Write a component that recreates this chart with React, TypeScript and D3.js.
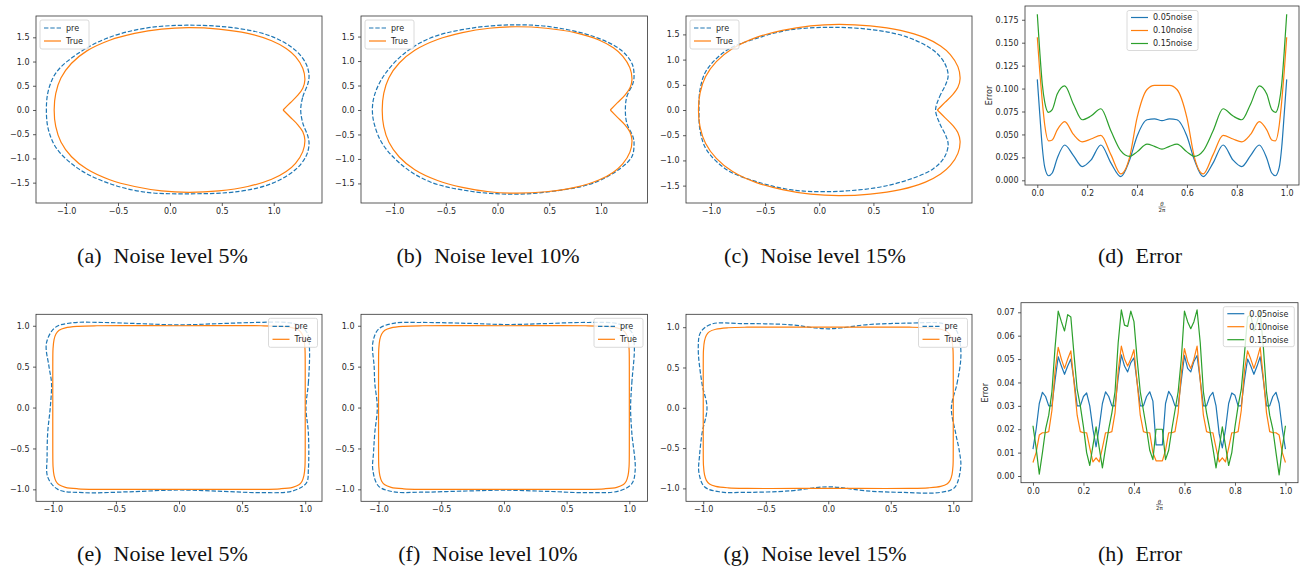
import React, { useEffect, useRef } from "react";
import * as d3 from "d3";

type Pt = [number, number];

const C0 = "#1f77b4";
const C1 = "#ff7f0e";
const C2 = "#2ca02c";

// --- true boundaries ---
const trueCardioid: Pt[] = [
  [1.09, 0.0], [1.16, 0.15], [1.23, 0.3], [1.28, 0.45], [1.3, 0.62], [1.28, 0.86],
  [1.21, 1.1], [1.12, 1.27], [0.98, 1.43], [0.75, 1.58], [0.47, 1.67], [0.18, 1.7],
  [-0.08, 1.67], [-0.34, 1.58], [-0.58, 1.44], [-0.8, 1.22], [-0.95, 0.96], [-1.05, 0.66],
  [-1.1, 0.34], [-1.115, 0.0], [-1.1, -0.34], [-1.05, -0.66], [-0.95, -0.96], [-0.8, -1.22],
  [-0.58, -1.44], [-0.34, -1.58], [-0.08, -1.67], [0.18, -1.7], [0.47, -1.67], [0.75, -1.58],
  [0.98, -1.43], [1.12, -1.27], [1.21, -1.1], [1.28, -0.86], [1.3, -0.62], [1.28, -0.45],
  [1.23, -0.3], [1.16, -0.15], [1.09, 0.0],
];

const trueRect: Pt[] = [
  [1.0, 0.0], [1.0, 0.5], [0.998, 0.72], [0.99, 0.83], [0.975, 0.9], [0.95, 0.945], [0.9, 0.975],
  [0.8, 0.993], [0.65, 1.0], [0.0, 1.0], [-0.65, 1.0], [-0.8, 0.993], [-0.9, 0.975], [-0.95, 0.945],
  [-0.975, 0.9], [-0.99, 0.83], [-0.998, 0.72], [-1.0, 0.5], [-1.0, 0.0], [-1.0, -0.5], [-0.998, -0.72],
  [-0.99, -0.83], [-0.975, -0.9], [-0.95, -0.945], [-0.9, -0.975], [-0.8, -0.993], [-0.65, -1.0],
  [0.0, -1.0], [0.65, -1.0], [0.8, -0.993], [0.9, -0.975], [0.95, -0.945], [0.975, -0.9], [0.99, -0.83],
  [0.998, -0.72], [1.0, -0.5],
];

// --- reconstructions ("pre") ---
const preA: Pt[] = [
  [1.26, 0.0], [1.28, 0.27], [1.33, 0.55], [1.34, 0.72], [1.31, 0.96], [1.21, 1.23], [0.99, 1.51],
  [0.67, 1.68], [0.18, 1.75], [-0.26, 1.68], [-0.62, 1.47], [-0.89, 1.16], [-1.09, 0.79], [-1.17, 0.41],
  [-1.19, 0.0], [-1.17, -0.41], [-1.09, -0.8], [-0.89, -1.2], [-0.62, -1.49], [-0.26, -1.69], [0.15, -1.73],
  [0.67, -1.68], [0.99, -1.51], [1.21, -1.23], [1.31, -0.96], [1.34, -0.72], [1.33, -0.55], [1.28, -0.27],
];

const preB: Pt[] = [
  [1.236, 0.0], [1.25, 0.27], [1.31, 0.55], [1.32, 0.7], [1.3, 0.95], [1.19, 1.23], [0.93, 1.5],
  [0.54, 1.69], [0.19, 1.74], [-0.26, 1.67], [-0.65, 1.47], [-0.91, 1.14], [-1.1, 0.7], [-1.19, 0.3],
  [-1.21, 0.0], [-1.19, -0.3], [-1.11, -0.7], [-0.91, -1.15], [-0.65, -1.47], [-0.26, -1.66], [0.155, -1.72],
  [0.54, -1.66], [0.93, -1.49], [1.19, -1.19], [1.3, -0.95], [1.32, -0.69], [1.31, -0.55], [1.25, -0.27],
];

const preC: Pt[] = [
  [1.074, 0.0], [1.11, 0.26], [1.17, 0.52], [1.19, 0.69], [1.157, 0.93], [1.05, 1.19], [0.8, 1.455],
  [0.5, 1.59], [0.13, 1.64], [-0.27, 1.59], [-0.58, 1.42], [-0.85, 1.19], [-1.04, 0.79], [-1.1, 0.41],
  [-1.11, 0.0], [-1.1, -0.41], [-1.04, -0.79], [-0.85, -1.19], [-0.58, -1.42], [-0.27, -1.58], [0.07, -1.62],
  [0.5, -1.55], [0.8, -1.4], [1.05, -1.17], [1.157, -0.93], [1.19, -0.69], [1.17, -0.52], [1.11, -0.26],
];

const preE: Pt[] = [
  [1.006, 0.0], [1.025, 0.3], [1.034, 0.71], [1.02, 0.9], [0.96, 1.0], [0.85, 1.04], [0.6, 1.04],
  [0.3, 1.025], [0.0, 1.01], [-0.3, 1.025], [-0.6, 1.04], [-0.85, 1.035], [-0.98, 0.98], [-1.05, 0.79],
  [-1.03, 0.5], [-1.01, 0.3], [-1.02, 0.0], [-1.04, -0.3], [-1.045, -0.6], [-1.04, -0.85], [-0.96, -1.0],
  [-0.76, -1.04], [-0.4, -1.03], [0.0, -1.008], [0.35, -1.025], [0.64, -1.04], [0.9, -1.02], [1.01, -0.92],
  [1.025, -0.76], [1.025, -0.31],
];

const preF: Pt[] = [
  [1.01, 0.0], [1.02, 0.3], [1.04, 0.75], [1.02, 0.92], [0.92, 1.02], [0.655, 1.04], [0.3, 1.025],
  [0.01, 1.015], [-0.3, 1.03], [-0.67, 1.04], [-0.88, 1.03], [-1.0, 0.96], [-1.046, 0.79], [-1.035, 0.5],
  [-1.03, 0.3], [-1.01, 0.0], [-1.03, -0.31], [-1.04, -0.55], [-1.046, -0.76], [-1.0, -0.96], [-0.88, -1.03],
  [-0.67, -1.035], [-0.3, -1.02], [0.01, -1.01], [0.35, -1.025], [0.655, -1.04], [0.92, -1.02], [1.02, -0.93],
  [1.047, -0.76], [1.02, -0.31],
];

const preG: Pt[] = [
  [0.985, 0.0], [1.03, 0.3], [1.06, 0.6], [1.055, 0.8], [1.02, 0.97], [0.92, 1.045], [0.63, 1.05],
  [0.3, 1.03], [0.1, 0.99], [0.0, 0.98], [-0.1, 0.99], [-0.3, 1.03], [-0.7, 1.045], [-0.93, 1.04],
  [-1.02, 0.94], [-1.04, 0.75], [-1.01, 0.3], [-0.97, 0.0], [-1.01, -0.32], [-1.03, -0.6], [-1.035, -0.8],
  [-0.99, -0.98], [-0.86, -1.045], [-0.7, -1.05], [-0.3, -1.03], [-0.1, -0.99], [0.0, -0.98], [0.1, -0.99],
  [0.3, -1.03], [0.6, -1.05], [0.894, -1.05], [1.01, -0.99], [1.06, -0.73], [1.05, -0.55], [1.02, -0.32],
];

// --- error curves, cardioid case ---
const thetaD = [
  0, 0.01, 0.02, 0.03, 0.045, 0.06, 0.08, 0.11, 0.145, 0.18, 0.215, 0.255, 0.295, 0.335, 0.37, 0.4, 0.44,
  0.47, 0.5, 0.53, 0.56, 0.6, 0.63, 0.665, 0.705, 0.745, 0.785, 0.82, 0.855, 0.89, 0.92, 0.94, 0.955, 0.97,
  0.98, 0.99, 1.0,
];
const err05D = [
  0.11, 0.072, 0.036, 0.014, 0.005, 0.008, 0.024, 0.0385, 0.027, 0.015, 0.022, 0.0385, 0.019, 0.004, 0.022,
  0.048, 0.066, 0.067, 0.065, 0.067, 0.066, 0.048, 0.022, 0.004, 0.019, 0.0385, 0.022, 0.015, 0.027, 0.0385,
  0.024, 0.008, 0.005, 0.014, 0.036, 0.072, 0.11,
];
const err10D = [
  0.156, 0.118, 0.086, 0.06, 0.043, 0.044, 0.055, 0.064, 0.05, 0.042, 0.045, 0.049, 0.028, 0.007, 0.025,
  0.068, 0.099, 0.1035, 0.1035, 0.1035, 0.099, 0.068, 0.025, 0.007, 0.028, 0.049, 0.045, 0.042, 0.05, 0.064,
  0.055, 0.044, 0.043, 0.06, 0.086, 0.118, 0.156,
];
const err15D = [
  0.181, 0.14, 0.105, 0.085, 0.074, 0.077, 0.094, 0.103, 0.083, 0.066, 0.07, 0.078, 0.054, 0.032, 0.026,
  0.031, 0.0395, 0.037, 0.034, 0.037, 0.0395, 0.031, 0.026, 0.032, 0.054, 0.078, 0.07, 0.066, 0.083, 0.103,
  0.094, 0.077, 0.074, 0.085, 0.105, 0.14, 0.181,
];

// --- error curves, rectangle case ---
const thetaH = [
  0, 0.0125, 0.025, 0.0375, 0.05, 0.0625, 0.075, 0.0875, 0.1, 0.1125, 0.125, 0.1375, 0.15, 0.1625, 0.175,
  0.1875, 0.2, 0.2125, 0.225, 0.2375, 0.25, 0.2625, 0.275, 0.2875, 0.3, 0.3125, 0.325, 0.3375, 0.35, 0.3625,
  0.375, 0.3875, 0.4, 0.4125, 0.425, 0.4375, 0.45, 0.4625, 0.475, 0.4875, 0.5, 0.5125, 0.525, 0.5375, 0.55,
  0.5625, 0.575, 0.5875, 0.6, 0.6125, 0.625, 0.6375, 0.65, 0.6625, 0.675, 0.6875, 0.7, 0.7125, 0.725, 0.7375,
  0.75, 0.7625, 0.775, 0.7875, 0.8, 0.8125, 0.825, 0.8375, 0.85, 0.8625, 0.875, 0.8875, 0.9, 0.9125, 0.925,
  0.9375, 0.95, 0.9625, 0.975, 0.9875, 1.0,
];
const err05H = [
  0.0115, 0.02, 0.031, 0.0358, 0.034, 0.03, 0.03, 0.041, 0.051, 0.047, 0.0435, 0.047, 0.05, 0.041, 0.03,
  0.03, 0.034, 0.0355, 0.03, 0.02, 0.0125,
  0.021, 0.031, 0.036, 0.034, 0.03, 0.03, 0.042, 0.0518, 0.047, 0.0445, 0.0485, 0.0505, 0.04, 0.03, 0.03,
  0.034, 0.036, 0.032, 0.0133, 0.0133,
  0.0133, 0.031, 0.0362, 0.034, 0.03, 0.03, 0.041, 0.0515, 0.046, 0.0445, 0.049, 0.0515, 0.041, 0.03, 0.03,
  0.034, 0.0358, 0.03, 0.018, 0.012,
  0.02, 0.031, 0.0355, 0.0345, 0.03, 0.03, 0.041, 0.05, 0.047, 0.0435, 0.047, 0.051, 0.041, 0.03, 0.03,
  0.034, 0.0358, 0.031, 0.02, 0.0115,
];
const err10H = [
  0.0058, 0.01, 0.0175, 0.0185, 0.0185, 0.019, 0.028, 0.045, 0.055, 0.05, 0.046, 0.05, 0.0535, 0.04, 0.026,
  0.019, 0.0185, 0.0185, 0.012, 0.006, 0.0078,
  0.006, 0.012, 0.0185, 0.0185, 0.019, 0.027, 0.045, 0.0555, 0.05, 0.047, 0.05, 0.054, 0.04, 0.026, 0.019,
  0.0185, 0.0185, 0.01, 0.0065, 0.0065,
  0.0065, 0.011, 0.0185, 0.0185, 0.019, 0.027, 0.044, 0.0545, 0.049, 0.046, 0.05, 0.0555, 0.041, 0.026, 0.019,
  0.0185, 0.0185, 0.012, 0.006, 0.0078,
  0.006, 0.012, 0.0185, 0.0185, 0.019, 0.028, 0.045, 0.0535, 0.05, 0.046, 0.05, 0.055, 0.042, 0.027, 0.019,
  0.0185, 0.0185, 0.0175, 0.01, 0.0058,
];
const err15H = [
  0.0215, 0.012, 0.0008, 0.01, 0.02, 0.026, 0.036, 0.055, 0.0705, 0.066, 0.062, 0.069, 0.068, 0.052, 0.037,
  0.03, 0.021, 0.01, 0.0045, 0.013, 0.021,
  0.012, 0.0035, 0.012, 0.02, 0.027, 0.036, 0.057, 0.071, 0.0645, 0.064, 0.0705, 0.066, 0.05, 0.036, 0.028,
  0.02, 0.011, 0.007, 0.02, 0.02,
  0.02, 0.007, 0.011, 0.02, 0.028, 0.036, 0.05, 0.0705, 0.066, 0.063, 0.066, 0.071, 0.057, 0.036, 0.027,
  0.02, 0.012, 0.0035, 0.012, 0.021,
  0.013, 0.0045, 0.01, 0.021, 0.03, 0.037, 0.052, 0.068, 0.069, 0.062, 0.066, 0.0705, 0.055, 0.036, 0.026,
  0.02, 0.01, 0.0005, 0.012, 0.0215,
];

const cardYTicks = [-1.5, -1.0, -0.5, 0.0, 0.5, 1.0, 1.5];
const rectYTicks = [-1.0, -0.5, 0.0, 0.5, 1.0];
const shapeXTicks = [-1.0, -0.5, 0.0, 0.5, 1.0];
const thetaTicks = [0, 0.2, 0.4, 0.6, 0.8, 1.0];
const errTicksD = [0, 0.025, 0.05, 0.075, 0.1, 0.125, 0.15, 0.175];
const errTicksH = [0, 0.01, 0.02, 0.03, 0.04, 0.05, 0.06, 0.07];
const noiseLabels = ["0.05noise", "0.10noise", "0.15noise"];

const captions = [
  ["(a)", "Noise level 5%"], ["(b)", "Noise level 10%"], ["(c)", "Noise level 15%"], ["(d)", "Error"],
  ["(e)", "Noise level 5%"], ["(f)", "Noise level 10%"], ["(g)", "Noise level 15%"], ["(h)", "Error"],
];

const FONT = "DejaVu Sans, sans-serif";
const INK = "#262626";

function styleAxis(sel: any) {
  sel.select(".domain").remove();
  sel.selectAll("line").attr("stroke", "#333").attr("stroke-width", 0.8);
  sel.selectAll("text").attr("font-family", FONT).attr("font-size", 8).attr("fill", INK);
}

function drawLegend(g: any, x0: number, y0: number, w: number, h: number, items: any[]) {
  g.append("rect")
    .attr("x", x0).attr("y", y0).attr("width", w).attr("height", h)
    .attr("rx", 2).attr("fill", "white").attr("fill-opacity", 0.8)
    .attr("stroke", "#d0d0d0").attr("stroke-width", 0.8);
  const step = 13;
  const first = y0 + h / 2 - ((items.length - 1) * step) / 2;
  items.forEach((it, i) => {
    const cy = first + i * step;
    g.append("line")
      .attr("x1", x0 + 4).attr("x2", x0 + 21).attr("y1", cy).attr("y2", cy)
      .attr("stroke", it.color).attr("stroke-width", 1.2)
      .attr("stroke-dasharray", it.dash ? "4.4,1.9" : null);
    g.append("text")
      .attr("x", x0 + 26).attr("y", cy).attr("dy", "0.35em")
      .attr("font-family", FONT).attr("font-size", 8).attr("fill", INK)
      .text(it.label);
  });
}

function frame(g: any, box: number[]) {
  const [x0, y0, x1, y1] = box;
  g.append("rect")
    .attr("x", x0).attr("y", y0).attr("width", x1 - x0).attr("height", y1 - y0)
    .attr("fill", "none").attr("stroke", "#333").attr("stroke-width", 0.8);
}

function shapePanel(root: any, p: any) {
  const [x0, y0, x1, y1] = p.box;
  const x = d3.scaleLinear().domain(p.xd).range([x0, x1]);
  const y = d3.scaleLinear().domain(p.yd).range([y1, y0]);
  const g = root.append("g");
  g.append("g").attr("transform", `translate(0,${y1})`)
    .call(d3.axisBottom(x).tickValues(shapeXTicks).tickFormat(d3.format(".1f")).tickSize(3).tickPadding(2.5))
    .call(styleAxis);
  g.append("g").attr("transform", `translate(${x0},0)`)
    .call(d3.axisLeft(y).tickValues(p.yTicks).tickFormat(d3.format(".1f")).tickSize(3).tickPadding(3.5))
    .call(styleAxis);

  const line = d3.line<Pt>().x((d) => x(d[0])).y((d) => y(d[1]));
  g.append("path")
    .attr("d", line.curve(d3.curveCatmullRomClosed.alpha(0.5))(p.pre))
    .attr("fill", "none").attr("stroke", C0).attr("stroke-width", 1.2)
    .attr("stroke-dasharray", "4.4,1.9");
  g.append("path")
    .attr("d", line.curve(p.closedTrue ? d3.curveCatmullRomClosed.alpha(0.5) : d3.curveCatmullRom.alpha(0.5))(p.tru))
    .attr("fill", "none").attr("stroke", C1).attr("stroke-width", 1.2);
  frame(g, p.box);

  const lw = 49, lh = 29;
  const lx = p.legend === "left" ? x0 + 4 : x1 - 4.5 - lw;
  drawLegend(g, lx, y0 + 4, lw, lh, [
    { label: "pre", color: C0, dash: true },
    { label: "True", color: C1, dash: false },
  ]);
}

function errorPanel(root: any, p: any) {
  const [x0, y0, x1, y1] = p.box;
  const x = d3.scaleLinear().domain(p.xd).range([x0, x1]);
  const y = d3.scaleLinear().domain(p.yd).range([y1, y0]);
  const g = root.append("g");
  g.append("g").attr("transform", `translate(0,${y1})`)
    .call(d3.axisBottom(x).tickValues(thetaTicks).tickFormat(d3.format(".1f")).tickSize(3).tickPadding(2.5))
    .call(styleAxis);
  g.append("g").attr("transform", `translate(${x0},0)`)
    .call(d3.axisLeft(y).tickValues(p.yTicks).tickFormat(d3.format(p.yFmt)).tickSize(3).tickPadding(3.5))
    .call(styleAxis);

  const colors = [C0, C1, C2];
  p.series.forEach((s: number[], i: number) => {
    const line = d3.line<number>()
      .x((_, k) => x(p.theta[k]))
      .y((d) => y(d))
      .curve(p.smooth ? d3.curveMonotoneX : d3.curveLinear);
    g.append("path").attr("d", line(s))
      .attr("fill", "none").attr("stroke", colors[i]).attr("stroke-width", 1.2)
      .attr("stroke-linejoin", "round");
  });
  frame(g, p.box);

  // y label
  g.append("text")
    .attr("transform", `translate(${x0 - 36},${(y0 + y1) / 2}) rotate(-90)`)
    .attr("text-anchor", "middle").attr("dy", "0.35em")
    .attr("font-family", FONT).attr("font-size", 8).attr("fill", INK)
    .text("Error");
  // x label: theta over 2 pi
  const cx = (x0 + x1) / 2;
  const cy = y1 + 22;
  g.append("text").attr("x", cx).attr("y", cy - 1.2).attr("text-anchor", "middle")
    .attr("font-family", FONT).attr("font-size", 5.5).attr("font-style", "italic").attr("fill", INK)
    .text("θ");
  g.append("line").attr("x1", cx - 3.5).attr("x2", cx + 3.5).attr("y1", cy).attr("y2", cy)
    .attr("stroke", INK).attr("stroke-width", 0.5);
  g.append("text").attr("x", cx).attr("y", cy + 5.2).attr("text-anchor", "middle")
    .attr("font-family", FONT).attr("font-size", 5.5).attr("fill", INK)
    .text("2π");

  drawLegend(g, p.legendX, p.legendY, 71, 40, noiseLabels.map((l, i) => ({ label: l, color: colors[i] })));
}

const App = () => {
  const ref = useRef<SVGSVGElement>(null);

  useEffect(() => {
    const svg = d3.select(ref.current);
    svg.selectAll("*").remove();
    svg.append("rect").attr("width", 1305).attr("height", 569).attr("fill", "white");

    const shapes = [
      { box: [36, 16, 322, 203], xd: [-1.29, 1.465], yd: [-1.92, 1.94], pre: preA, tru: trueCardioid, closedTrue: false, legend: "left", yTicks: cardYTicks },
      { box: [361, 16, 647.5, 203], xd: [-1.32, 1.45], yd: [-1.9, 1.92], pre: preB, tru: trueCardioid, closedTrue: false, legend: "left", yTicks: cardYTicks },
      { box: [686, 16, 972, 203], xd: [-1.23, 1.41], yd: [-1.845, 1.865], pre: preC, tru: trueCardioid, closedTrue: false, legend: "left", yTicks: cardYTicks },
      { box: [36, 314.3, 322, 501.3], xd: [-1.133, 1.133], yd: [-1.146, 1.14], pre: preE, tru: trueRect, closedTrue: true, legend: "right", yTicks: rectYTicks },
      { box: [361, 314.3, 647.5, 501.3], xd: [-1.14, 1.145], yd: [-1.146, 1.14], pre: preF, tru: trueRect, closedTrue: true, legend: "right", yTicks: rectYTicks },
      { box: [686, 314.3, 972, 501.3], xd: [-1.138, 1.15], yd: [-1.16, 1.16], pre: preG, tru: trueRect, closedTrue: true, legend: "right", yTicks: rectYTicks },
    ];
    shapes.forEach((p) => shapePanel(svg, p));

    errorPanel(svg, {
      box: [1025, 6, 1299, 185], xd: [-0.0493, 1.0493], yd: [-0.0051, 0.19],
      yTicks: errTicksD, yFmt: ".3f", theta: thetaD, series: [err05D, err10D, err15D], smooth: true,
      legendX: 1127, legendY: 10.5,
    });
    errorPanel(svg, {
      box: [1021, 302.7, 1298, 482.7], xd: [-0.0474, 1.0497], yd: [-0.00286, 0.0741],
      yTicks: errTicksH, yFmt: ".2f", theta: thetaH, series: [err05H, err10H, err15H], smooth: false,
      legendX: 1223.3, legendY: 306.7,
    });

    // captions
    const capX = [162.5, 488, 815, 1140];
    captions.forEach((c, i) => {
      const t = svg.append("text")
        .attr("x", capX[i % 4]).attr("y", i < 4 ? 263 : 561)
        .attr("text-anchor", "middle")
        .attr("font-family", "Liberation Serif, Times New Roman, serif")
        .attr("font-size", 22).attr("fill", "#111");
      t.append("tspan").text(c[0]);
      t.append("tspan").attr("dx", 12).text(c[1]);
    });
  }, []);

  return (
    <svg
      ref={ref}
      width={1305}
      height={569}
      style={{ position: "absolute", left: 0, top: 0, display: "block" }}
    />
  );
};

export default App;
